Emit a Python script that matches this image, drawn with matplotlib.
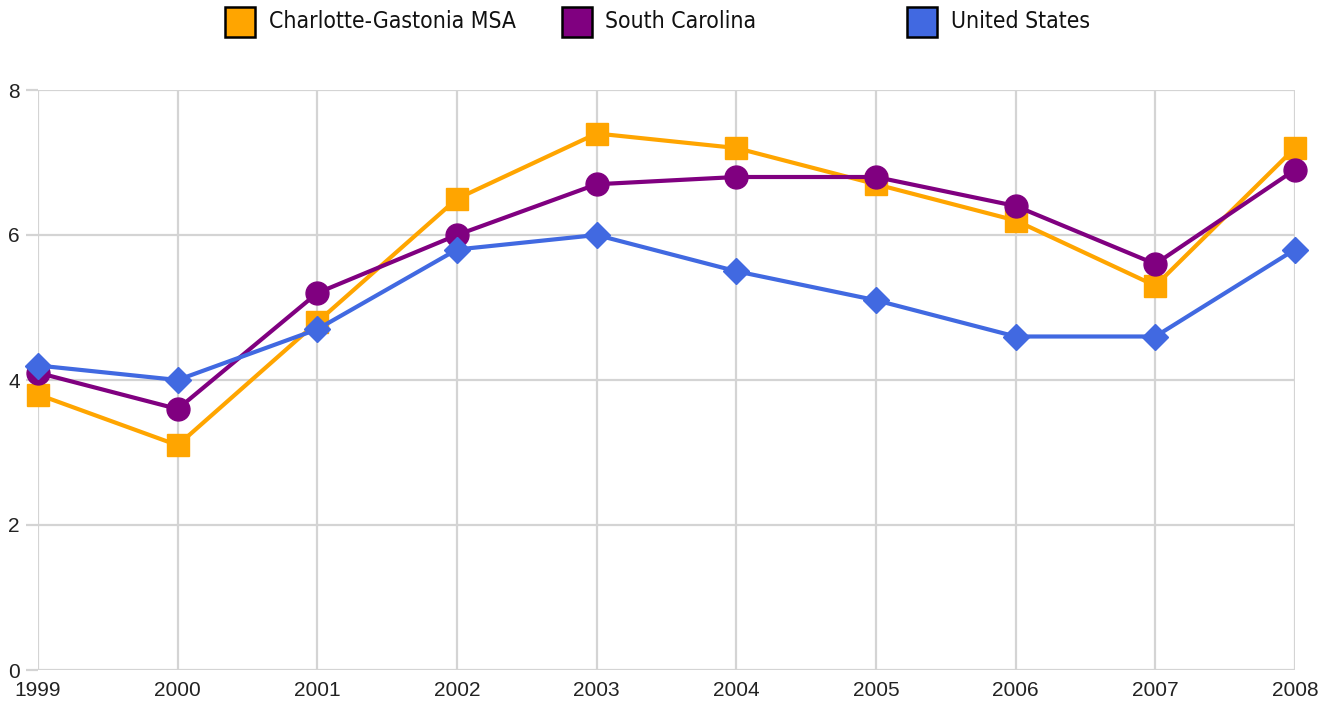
import matplotlib
matplotlib.use("Agg")
import matplotlib.pyplot as plt
from matplotlib.patches import Rectangle

years = [1999, 2000, 2001, 2002, 2003, 2004, 2005, 2006, 2007, 2008]
charlotte = [3.8, 3.1, 4.8, 6.5, 7.4, 7.2, 6.7, 6.2, 5.3, 7.2]
south_carolina = [4.1, 3.6, 5.2, 6.0, 6.7, 6.8, 6.8, 6.4, 5.6, 6.9]
united_states = [4.2, 4.0, 4.7, 5.8, 6.0, 5.5, 5.1, 4.6, 4.6, 5.8]
series_names = ["Charlotte-Gastonia MSA", "South Carolina", "United States"]
colors = ["#FFA500", "#800080", "#4169E1"]
y_ticks = [0, 2, 4, 6, 8]

W, H = 1329, 706
fig = plt.figure(figsize=(W / 100, H / 100), dpi=100)
ax = fig.add_axes([38 / W, 1 - 670 / H, 1257 / W, 580 / H])

ax.set_xlim(years[0], years[-1])
ax.set_ylim(0, 8)
ax.set_xticks(years)
ax.set_xticklabels([str(y) for y in years])
ax.set_yticks(y_ticks)
ax.set_yticklabels([str(t) for t in y_ticks])
ax.grid(True, color="#d4d4d4", linewidth=1.6)
ax.set_axisbelow(True)
for s in ax.spines.values():
    s.set_visible(False)
ax.tick_params(axis="y", length=9, width=1.6, color="#d4d4d4", pad=4,
               labelsize=15, labelcolor="#222222")
ax.tick_params(axis="x", length=0, pad=8, labelsize=15, labelcolor="#222222")
for lab in ax.get_xticklabels() + ax.get_yticklabels():
    lab.set_fontfamily(["Liberation Sans", "DejaVu Sans"])

ax.plot(years, charlotte, color=colors[0], lw=3, marker="s", ms=16.5,
        clip_on=False, zorder=3)
ax.plot(years, south_carolina, color=colors[1], lw=3, marker="o", ms=16.5,
        clip_on=False, zorder=4)
ax.plot(years, united_states, color=colors[2], lw=3, marker="D", ms=13.5,
        clip_on=False, zorder=5)

# legend
sq_x = [225, 562, 907]
txt_x = [269, 605, 951]
for name, c, sx, tx in zip(series_names, colors, sq_x, txt_x):
    fig.patches.append(Rectangle((sx / W, 1 - 37 / H), 30 / W, 30 / H,
                                 transform=fig.transFigure, facecolor=c,
                                 edgecolor="black", linewidth=1.8))
    fig.text(tx / W, 1 - 21 / H, name, fontsize=16.5, va="center", ha="left",
             family="DejaVu Sans", stretch="condensed", color="#111111")

fig.savefig("out.png", dpi=100)
